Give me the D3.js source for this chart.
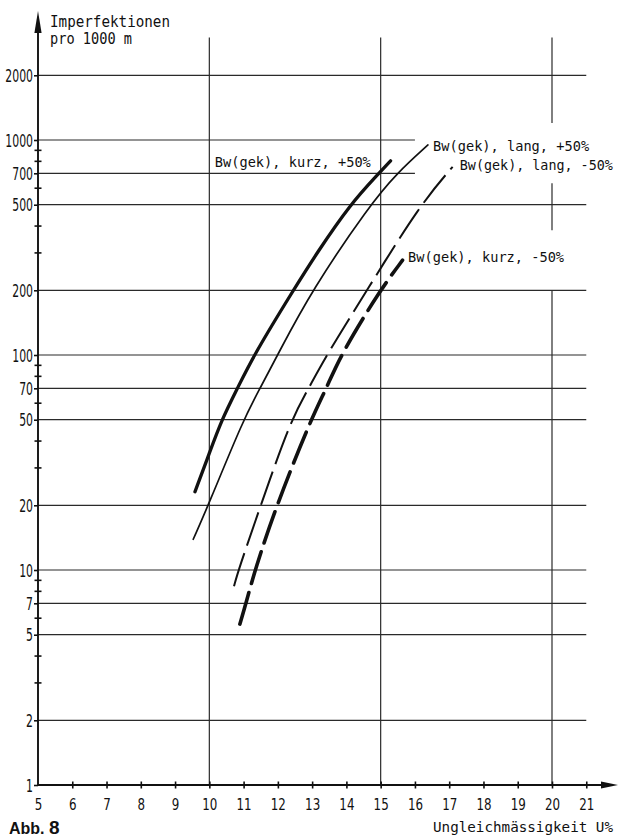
<!DOCTYPE html>
<html>
<head>
<meta charset="utf-8">
<script src="https://cdn.jsdelivr.net/npm/d3@7"></script>
<style>
  body { margin: 0; background: #fff; }
  svg { display: block; }
</style>
</head>
<body>
<div id="chart"></div>
<script>
const width = 619;
const height = 839;

// ticks and grid
const xTickValues = [5, 6, 7, 8, 9, 10, 11, 12, 13, 14, 15, 16, 17, 18, 19, 20, 21];
const yLabelTicks = [1, 2, 5, 7, 10, 20, 50, 70, 100, 200, 500, 700, 1000, 2000];
const yMinorTicks = [3, 4, 6, 8, 9, 30, 40, 60, 80, 90, 300, 400, 600, 800, 900];
const hGridFull = [2, 5, 7, 10, 20, 50, 70, 100, 200, 500, 2000];
const hGridShort = [700, 1000];          // these stop at U = 16
// vertical grid pieces: [U, from, to]
const vGrid = [[10, 1, 3000], [15, 1, 3000], [20, 1, 200], [20, 380, 630], [20, 1200, 3000]];

// series: [U%, Imperfektionen pro 1000 m]
const kurzPlus = [[9.58, 23.1], [10, 34.9], [10.36, 50], [10.82, 70], [11.3, 100], [12.45, 200],
                  [13.15, 300], [14.1, 500], [14.95, 700], [15.29, 800]];
const langPlus = [[9.53, 13.9], [9.97, 20], [10.99, 50], [11.48, 70], [11.99, 100], [12.99, 200],
                  [14.69, 500], [15.47, 700], [16.38, 948]];
const langMinus = [[10.72, 8.4], [10.85, 10], [11.5, 20], [12.38, 50], [12.9, 70], [13.42, 100],
                   [14.6, 200], [16.15, 500], [17.1, 750]];
const kurzMinus = [[10.89, 5.6], [11.07, 7], [11.33, 10], [11.96, 20], [12.96, 50], [13.42, 70],
                   [13.83, 100], [14.98, 200], [15.64, 276]];

const seriesNames = ["Bw(gek), kurz, +50%", "Bw(gek), lang, +50%", "Bw(gek), lang, -50%", "Bw(gek), kurz, -50%"];
// where each label starts (U, value at baseline)
const labelPos = [[10.16, 749], [16.53, 889], [17.31, 725], [15.8, 272]];

const ink = "#111";
const gridInk = "#2a2a2a";

const x = d3.scaleLinear().domain([5, 20]).range([38, 552]);
const y = d3.scaleLog().domain([1, 1000]).range([785, 140]);

const svg = d3.select("#chart").append("svg")
  .attr("width", width)
  .attr("height", height)
  .attr("viewBox", [0, 0, width, height]);

svg.append("rect").attr("width", width).attr("height", height).attr("fill", "#fff");

// grid
const grid = svg.append("g").attr("stroke", gridInk).attr("stroke-width", 1.2);
grid.selectAll("line.hf")
  .data(hGridFull)
  .join("line")
  .attr("x1", x(5)).attr("x2", x(21))
  .attr("y1", d => y(d)).attr("y2", d => y(d));
grid.selectAll("line.hs")
  .data(hGridShort)
  .join("line")
  .attr("x1", x(5)).attr("x2", x(16))
  .attr("y1", d => y(d)).attr("y2", d => y(d));
grid.selectAll("line.v")
  .data(vGrid)
  .join("line")
  .attr("x1", d => x(d[0])).attr("x2", d => x(d[0]))
  .attr("y1", d => y(d[1])).attr("y2", d => y(d[2]));

// x axis
const x0 = x(5), y0 = y(1);
const sx = 0.72;
const gx = svg.append("g")
  .attr("transform", `translate(0,${y0 - 3.5})`)
  .call(d3.axisBottom(x).tickValues(xTickValues).tickSize(7).tickSizeOuter(0));
gx.select(".domain").remove();
gx.selectAll(".tick").filter(d => d === 5).select("line").remove();
gx.selectAll(".tick line").attr("stroke", ink).attr("stroke-width", 1.6);
gx.selectAll(".tick text")
  .attr("y", 29).attr("dy", 0)
  .attr("fill", ink)
  .attr("font-family", "DejaVu Sans, sans-serif")
  .attr("font-size", 16.5)
  .attr("transform", `scale(${sx},1)`);

// y axis, labelled ticks
const sy = 0.64;
const gy = svg.append("g")
  .attr("transform", `translate(${x0},0)`)
  .call(d3.axisLeft(y).tickValues(yLabelTicks).tickSize(4).tickFormat(d3.format("d")));
gy.select(".domain").remove();
gy.selectAll(".tick line").attr("stroke", ink).attr("stroke-width", 1.6);
gy.selectAll(".tick text")
  .attr("x", -5 / sy)
  .attr("dy", "0.36em")
  .attr("fill", ink)
  .attr("font-family", "DejaVu Sans, sans-serif")
  .attr("font-size", 17)
  .attr("transform", `scale(${sy},1)`);

// y axis, minor ticks crossing the axis
const gm = svg.append("g")
  .attr("transform", `translate(${x0 + 3.5},0)`)
  .call(d3.axisLeft(y).tickValues(yMinorTicks).tickSize(7).tickFormat(""));
gm.select(".domain").remove();
gm.selectAll(".tick line").attr("stroke", ink).attr("stroke-width", 1.6);

// axis lines + arrows
svg.append("line")
  .attr("x1", x0).attr("x2", x0).attr("y1", y0).attr("y2", 30)
  .attr("stroke", ink).attr("stroke-width", 1.9);
svg.append("path")
  .attr("d", `M${x0},11 L${x0 - 3.6},33 L${x0 + 3.6},33 Z`)
  .attr("fill", ink);
svg.append("line")
  .attr("x1", x0).attr("x2", 604).attr("y1", y0).attr("y2", y0)
  .attr("stroke", ink).attr("stroke-width", 1.9);
svg.append("path")
  .attr("d", `M618,${y0} L601,${y0 - 3.6} L601,${y0 + 3.6} Z`)
  .attr("fill", ink);

// curves
const line = d3.line()
  .x(d => x(d[0]))
  .y(d => y(d[1]))
  .curve(d3.curveBasis);

const curves = [
  { data: kurzPlus, w: 3.3, dash: null, cap: "round" },
  { data: langPlus, w: 1.7, dash: null, cap: "round" },
  { data: langMinus, w: 2.0, dash: "35 8", cap: "butt" },
  { data: kurzMinus, w: 3.6, dash: "33 9.5", cap: "round" }
];

svg.append("g")
  .attr("fill", "none")
  .attr("stroke", ink)
  .selectAll("path")
  .data(curves)
  .join("path")
  .attr("d", d => line(d.data))
  .attr("stroke-width", d => d.w)
  .attr("stroke-dasharray", d => d.dash)
  .attr("stroke-linecap", d => d.cap);

// text helper: mono lettering fitted to the measured width
const mono = (str, px, py, len, size) =>
  svg.append("text")
    .attr("x", px).attr("y", py)
    .attr("font-family", "DejaVu Sans Mono, monospace")
    .attr("font-size", size)
    .attr("fill", ink)
    .attr("textLength", len)
    .attr("lengthAdjust", "spacingAndGlyphs")
    .text(str);

seriesNames.forEach((name, i) => {
  mono(name, x(labelPos[i][0]), y(labelPos[i][1]), i === 2 ? 153 : 156, 13.6);
});

mono("Imperfektionen", 50, 26.5, 120, 15);
mono("pro 1000 m", 50, 44, 82, 15);
mono("Ungleichmässigkeit U%", 433, 832, 180, 14.2);

const abb = svg.append("text")
  .attr("x", 9).attr("y", 834)
  .attr("font-family", "Liberation Sans, Arial, sans-serif")
  .attr("font-weight", "bold")
  .attr("fill", ink);
abb.append("tspan").attr("font-size", 16).text("Abb. ");
abb.append("tspan").attr("font-size", 19).text("8");
</script>
</body>
</html>
